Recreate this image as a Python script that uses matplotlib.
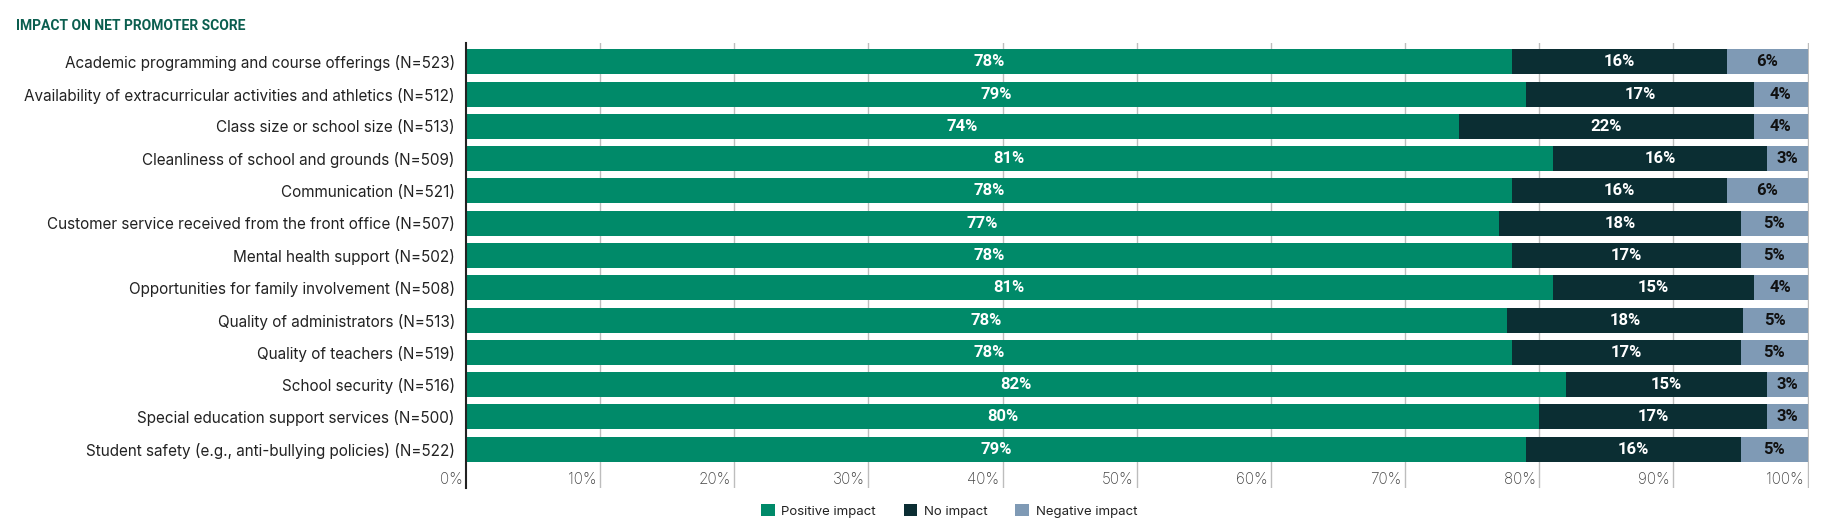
import matplotlib
matplotlib.use("Agg")
import matplotlib.pyplot as plt
from matplotlib.patches import Patch
import numpy as np

categories = [
    "Academic programming and course offerings (N=523)",
    "Availability of extracurricular activities and athletics (N=512)",
    "Class size or school size (N=513)",
    "Cleanliness of school and grounds (N=509)",
    "Communication (N=521)",
    "Customer service received from the front office (N=507)",
    "Mental health support (N=502)",
    "Opportunities for family involvement (N=508)",
    "Quality of administrators (N=513)",
    "Quality of teachers (N=519)",
    "School security (N=516)",
    "Special education support services (N=500)",
    "Student safety (e.g., anti-bullying policies) (N=522)",
]
positive = [78, 79, 74, 81, 78, 77, 78, 81, 77.6, 78, 82, 80, 79]
no_impact = [16, 17, 22, 16, 16, 18, 17, 15, 17.6, 17, 15, 17, 16]
negative = [6, 4, 4, 3, 6, 5, 5, 4, 4.8, 5, 3, 3, 5]
series_names = ["Positive impact", "No impact", "Negative impact"]
xticks = [0, 10, 20, 30, 40, 50, 60, 70, 80, 90, 100]
xtick_labels = [f"{t}%" for t in xticks]
title = "IMPACT ON NET PROMOTER SCORE"

colors = ["#008A69", "#0B2E33", "#7F9AB5"]
label_colors = ["white", "white", "#111111"]

LBL_FONT = ["Inter", "Roboto", "DejaVu Sans"]
VAL_FONT = ["Liberation Sans Narrow", "Roboto", "DejaVu Sans"]

fig = plt.figure(figsize=(18.43, 5.31), dpi=100)
ax = fig.add_axes([466 / 1843, 1 - 488 / 531, (1809 - 466) / 1843, (488 - 43) / 531])

y = np.arange(len(categories))
series = [positive, no_impact, negative]
left = np.zeros(len(categories))
for vals, col, lc in zip(series, colors, label_colors):
    vals = np.array(vals, dtype=float)
    ax.barh(y, vals, left=left, height=0.775, color=col, zorder=3)
    for yi, l, v in zip(y, left, vals):
        ax.text(l + v / 2, yi, f"{v:.0f}%", ha="center", va="center",
                color=lc, fontsize=12, fontweight="bold", family=VAL_FONT, zorder=4)
    left += vals

ax.set_xlim(0, 100.1)
ax.set_ylim(13.2, -0.58)
ax.set_yticks(y)
ax.set_yticklabels(categories, family=LBL_FONT, fontsize=11, color="#222222")
ax.tick_params(axis="y", length=0, pad=8)
ax.set_xticks([])
for t in xticks[1:]:
    ax.axvline(t, color="#BDBDBD", lw=1.0, zorder=1)
for t, lab in zip(xticks, xtick_labels):
    ax.annotate(lab, xy=(t, 12.95), xycoords="data", xytext=(-2.5, 0),
                textcoords="offset points", ha="right", va="center",
                fontsize=11, color="#444444", family=LBL_FONT, fontweight="light")

for s in ["top", "right", "bottom"]:
    ax.spines[s].set_visible(False)
ax.spines["left"].set_color("#222222")
ax.spines["left"].set_linewidth(1.5)
ax.spines["left"].set_zorder(5)

fig.text(16 / 1843, 1 - 26 / 531, title, ha="left", va="center",
         fontsize=10, fontweight="bold", color="#0B5E4F", family=["Roboto", "DejaVu Sans"])

handles = [Patch(facecolor=c, edgecolor="none") for c in colors]
fig.legend(handles, series_names, loc="center", bbox_to_anchor=(949 / 1843, 1 - 511 / 531),
           ncol=3, frameon=False, handlelength=1.05, handleheight=1.05,
           handletextpad=0.5, columnspacing=2.1,
           prop={"family": LBL_FONT, "size": 9.5})
for t in fig.legends[0].get_texts():
    t.set_color("#222222")

fig.savefig("out.png", dpi=100)
